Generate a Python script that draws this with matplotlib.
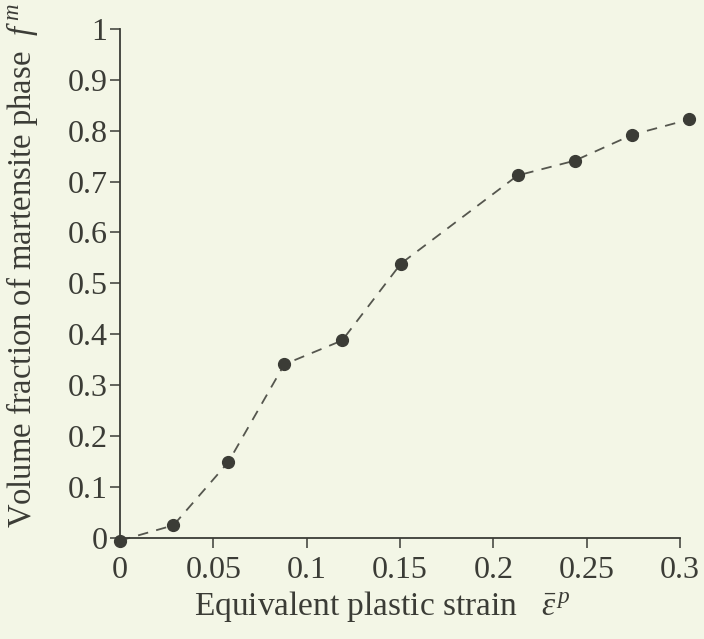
import matplotlib
matplotlib.use('Agg')
import matplotlib.pyplot as plt

# data
strain = [0.0, 0.0286, 0.058, 0.088, 0.119, 0.1505, 0.213, 0.2436, 0.2745, 0.305]
fraction = [-0.005, 0.025, 0.149, 0.341, 0.388, 0.539, 0.712, 0.741, 0.792, 0.822]

x_ticks = [0, 0.05, 0.1, 0.15, 0.2, 0.25, 0.3]
x_tick_labels = ['0', '0.05', '0.1', '0.15', '0.2', '0.25', '0.3']
y_ticks = [0, 0.1, 0.2, 0.3, 0.4, 0.5, 0.6, 0.7, 0.8, 0.9, 1.0]
y_tick_labels = ['0', '0.1', '0.2', '0.3', '0.4', '0.5', '0.6', '0.7', '0.8', '0.9', '1']

paper = '#f3f6e6'
ink = '#3b3c36'

plt.rcParams['font.family'] = ['Liberation Serif', 'DejaVu Serif']
plt.rcParams['mathtext.fontset'] = 'custom'
plt.rcParams['mathtext.rm'] = 'Liberation Serif'
plt.rcParams['mathtext.it'] = 'Liberation Serif:italic'

fig = plt.figure(figsize=(7.04, 6.39), dpi=100, facecolor=paper)
ax = fig.add_axes([0.1705, 0.158, 0.7955, 0.797])
ax.set_facecolor(paper)

ax.plot(strain, fraction, linestyle='--', dashes=(5.8, 4.6), color='#55564e', linewidth=1.3,
        marker='o', markersize=8.5, markerfacecolor=ink, markeredgecolor=ink, clip_on=False)

ax.set_xlim(0, 0.3)
ax.set_ylim(0, 1)
ax.set_xticks(x_ticks)
ax.set_xticklabels(x_tick_labels)
ax.set_yticks(y_ticks)
ax.set_yticklabels(y_tick_labels)

for side in ['top', 'right']:
    ax.spines[side].set_visible(False)
for side in ['left', 'bottom']:
    ax.spines[side].set_color(ink)
    ax.spines[side].set_linewidth(1.3)

ax.tick_params(axis='both', direction='out', length=7, width=1.1, color=ink,
               labelcolor=ink, labelsize=23)
ax.tick_params(axis='y', pad=2)
ax.tick_params(axis='x', pad=6)

fig.text(22 / 704, 1 - 266 / 639, 'Volume fraction of martensite phase  $f^{\\,m}$',
         rotation=90, ha='center', va='center', fontsize=23.5, color=ink)
fig.text(382 / 704, 1 - 606 / 639, 'Equivalent plastic strain   $\\bar{\\varepsilon}^{\\,p}$',
         ha='center', va='center', fontsize=24, color=ink)

fig.savefig('out.png', dpi=100, facecolor=paper)
